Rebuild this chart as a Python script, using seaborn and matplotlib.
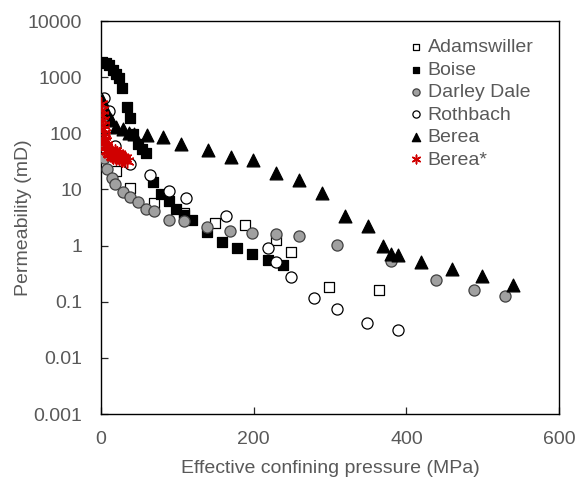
import numpy as np
import pandas as pd
import matplotlib
matplotlib.use('Agg')
import matplotlib.pyplot as plt
import seaborn as sns
from matplotlib.ticker import FixedLocator, FuncFormatter, NullLocator

# values (pressure in MPa, permeability in mD)
adams_p = [19.7, 38, 68.8, 109, 149, 189, 229, 249, 299, 364]
adams_k = [21.5, 10.7, 5.7, 3.85, 2.55, 2.37, 1.26, 0.77, 0.18, 0.16]

boise_p = [1.7, 6.2, 10.5, 15.3, 19.3, 24, 27.9, 33.7, 38, 42.3, 48, 54, 59,
           68.5, 78.6, 89.5, 98.3, 108.7, 118.8, 139.3, 158.9, 178.6, 198.2, 219.2, 238.8]
boise_k = [1884, 1765, 1644, 1341, 1138, 954, 649, 290, 190, 97, 64, 53, 44,
           13.7, 8.3, 6.2, 4.5, 3.5, 2.85, 1.77, 1.17, 0.89, 0.70, 0.55, 0.45]

darley_p = [0.9, 3.9, 8.3, 13.8, 19, 28.2, 38, 48.5, 59, 69.2, 89.3, 108.7,
            139.3, 169, 198.2, 229.3, 259.4, 309.2, 379.5, 439.3, 488.3, 529.3]
darley_k = [66, 35.8, 22.9, 16.3, 12.4, 8.9, 7.2, 6.0, 4.5, 4.1, 2.85, 2.77,
            2.1, 1.83, 1.67, 1.61, 1.48, 1.01, 0.53, 0.24, 0.16, 0.125]

roth_p = [4.2, 10.1, 19, 38.4, 64.2, 89.3, 111, 163.8, 219.2, 229, 248.9, 278.4, 308.5, 348.9, 388.7]
roth_k = [434, 247, 59, 28.4, 18.1, 9.4, 7.0, 3.3, 0.92, 0.52, 0.28, 0.117, 0.073, 0.041, 0.031]

berea_p = [1.7, 7.5, 12.7, 19.7, 28.4, 36.7, 43.9, 60.3, 80.8, 104.5, 140.2, 169.9, 198.7,
           229.7, 259.8, 289.9, 319.3, 349.4, 369.8, 379.7, 389.5, 418.8, 459.5, 498.8, 540.2]
berea_k = [392, 227, 173, 132, 118, 103, 97, 94, 86, 65, 51, 38, 34,
           20, 14.9, 8.7, 3.4, 2.23, 0.98, 0.72, 0.67, 0.50, 0.38, 0.29, 0.20]

bereastar_p = [0.5, 1, 1.5, 2, 2.5, 3, 3.5, 4, 4.5, 5, 6, 7, 8, 9, 10, 11, 12, 13, 14,
               15, 16, 17, 18, 19, 20, 21, 22, 23, 24, 25, 26, 27, 28, 29, 30, 32, 34]
bereastar_k = [330, 260, 210, 170, 140, 120, 100, 90, 80, 72, 62, 56, 50, 48, 45, 44, 42, 50, 40,
               46, 38, 42, 48, 40, 37, 44, 39, 42, 36, 40, 35, 38, 34, 37, 33, 36, 32]

sns.set_style('ticks')
plt.rcParams['font.family'] = ['Liberation Sans', 'DejaVu Sans']
grey = '#595959'

fig, ax = plt.subplots(figsize=(5.77, 4.84), dpi=100)
fig.subplots_adjust(left=0.175, right=0.969, bottom=0.1446, top=0.9566)

series = [
    ('Adamswiller', adams_p, adams_k, dict(marker='s', color='white', edgecolor='black', s=46, linewidth=0.9)),
    ('Boise', boise_p, boise_k, dict(marker='s', color='black', edgecolor='black', s=46, linewidth=0.9)),
    ('Darley Dale', darley_p, darley_k, dict(marker='o', color='#a0a0a0', edgecolor='#404040', s=64, linewidth=0.9)),
    ('Rothbach', roth_p, roth_k, dict(marker='o', color='white', edgecolor='black', s=64, linewidth=0.9)),
    ('Berea', berea_p, berea_k, dict(marker='^', color='black', edgecolor='black', s=85, linewidth=0.9)),
    ('Berea*', bereastar_p, bereastar_k, dict(marker=(6, 2, 0), color='#d00000', edgecolor='#d00000', s=90, linewidth=1.1)),
]
for name, p, k, kw in series:
    df = pd.DataFrame({'pressure': p, 'perm': k})
    sns.scatterplot(data=df, x='pressure', y='perm', label=name, ax=ax, zorder=3, **kw)

ax.set_yscale('log')
ax.set_xlim(0, 600)
ax.set_ylim(0.001, 10000)
ax.yaxis.set_major_locator(FixedLocator([0.001, 0.01, 0.1, 1, 10, 100, 1000, 10000]))
ax.yaxis.set_minor_locator(NullLocator())
ax.yaxis.set_major_formatter(FuncFormatter(lambda v, pos: '{:g}'.format(v)))
ax.set_xticks([0, 200, 400, 600])
ax.tick_params(direction='in', length=5, width=0.9, labelsize=14, labelcolor=grey)
ax.tick_params(axis='x', pad=12)
ax.tick_params(axis='y', pad=13.5)
for sp in ax.spines.values():
    sp.set_color('black')
    sp.set_linewidth(1.0)

ax.set_xlabel('Effective confining pressure (MPa)', fontsize=14, color=grey, labelpad=9)
ax.set_ylabel('Permeability (mD)', fontsize=14, color=grey, labelpad=-3)

leg = ax.legend(loc='upper right', bbox_to_anchor=(0.97, 0.985), frameon=False, fontsize=14,
                labelcolor=grey, markerscale=0.65, handletextpad=0.0, labelspacing=0.25,
                borderaxespad=0.2, handlelength=1.2)

fig.savefig('out.png', dpi=100)
